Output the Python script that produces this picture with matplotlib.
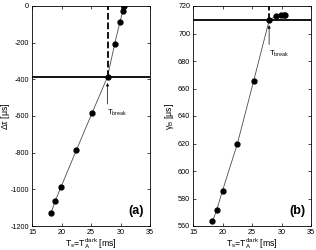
import matplotlib
matplotlib.use('Agg')
import matplotlib.pyplot as plt

# data
ts_a = [18.2, 18.95, 19.9, 22.5, 25.2, 27.8, 29.0, 29.9, 30.4, 30.6]
dtau = [-1131, -1062, -988, -788, -582, -386, -209, -87, -26, 0]
ts_b = [18.3, 19.0, 20.0, 22.5, 25.3, 27.9, 29.0, 29.9, 30.4, 30.6]
tau_b = [563.4, 571.4, 585.7, 619.5, 665.8, 709.5, 712.7, 713.7, 713.7, 713.7]
tbreak_a, level_a = 27.8, -386
tbreak_b, level_b = 27.9, 710

plt.rcParams['font.family'] = ['Liberation Sans', 'DejaVu Sans']
plt.rcParams['font.size'] = 5.2
plt.rcParams['axes.unicode_minus'] = False
plt.rcParams['mathtext.fontset'] = 'custom'
plt.rcParams['mathtext.rm'] = 'Liberation Sans'
plt.rcParams['mathtext.it'] = 'Liberation Sans:italic'
plt.rcParams['mathtext.default'] = 'regular'
fig = plt.figure(figsize=(3.16, 2.5), dpi=100)
ax1 = fig.add_axes([32/316, 24/250, 118/316, 220/250])
ax2 = fig.add_axes([193/316, 24/250, 118/316, 220/250])

xlabel = r'T$_s$=T$_A^{dark}$ [ms]'


def panel(ax, x, y, tb, lvl, top, arrow_from, arrow_to, text_y):
    ax.plot(x, y, color='0.3', lw=0.6)
    ax.plot(x, y, 'o', color='k', ms=3.5)
    ax.axhline(lvl, color='k', lw=1.3)
    ax.plot([tb, tb], [lvl, top], 'k--', lw=1.3)
    ax.annotate('', xy=(tb, arrow_to), xytext=(tb, arrow_from),
                arrowprops=dict(arrowstyle='-|>', color='k', lw=0.5, mutation_scale=4))
    ax.text(tb - 0.1, text_y, r'T$_{break}$', fontsize=5.5, ha='left', va='center')


# panel (a)
panel(ax1, ts_a, dtau, tbreak_a, level_a, 0, -550, -405, -585)
ax1.set_xlim(15, 35)
ax1.set_ylim(-1200, 0)
ax1.set_yticks(range(-1200, 1, 200))
ax1.set_ylabel(r'$\Delta\tau$ [$\mu$s]', fontsize=6.3)
ax1.yaxis.set_label_coords(-0.17, 0.5)
ax1.text(0.95, 0.04, '(a)', transform=ax1.transAxes, ha='right', va='bottom',
         fontsize=9, fontweight='bold')

# panel (b)
panel(ax2, ts_b, tau_b, tbreak_b, level_b, 720, 690, 708, 685.5)
ax2.set_xlim(15, 35)
ax2.set_ylim(560, 720)
ax2.set_yticks(range(560, 721, 20))
ax2.set_ylabel(r'$\gamma_B$ [$\mu$s]', fontsize=6.3)
ax2.yaxis.set_label_coords(-0.14, 0.5)
ax2.text(0.95, 0.04, '(b)', transform=ax2.transAxes, ha='right', va='bottom',
         fontsize=9, fontweight='bold')

for ax in (ax1, ax2):
    ax.set_xticks([15, 20, 25, 30, 35])
    ax.set_xlabel(xlabel, labelpad=0, fontsize=6.3)
    ax.tick_params(direction='in', top=True, right=True, length=2, width=0.5, pad=2)
    for s in ax.spines.values():
        s.set_linewidth(0.6)

fig.savefig('out.png', dpi=100)
